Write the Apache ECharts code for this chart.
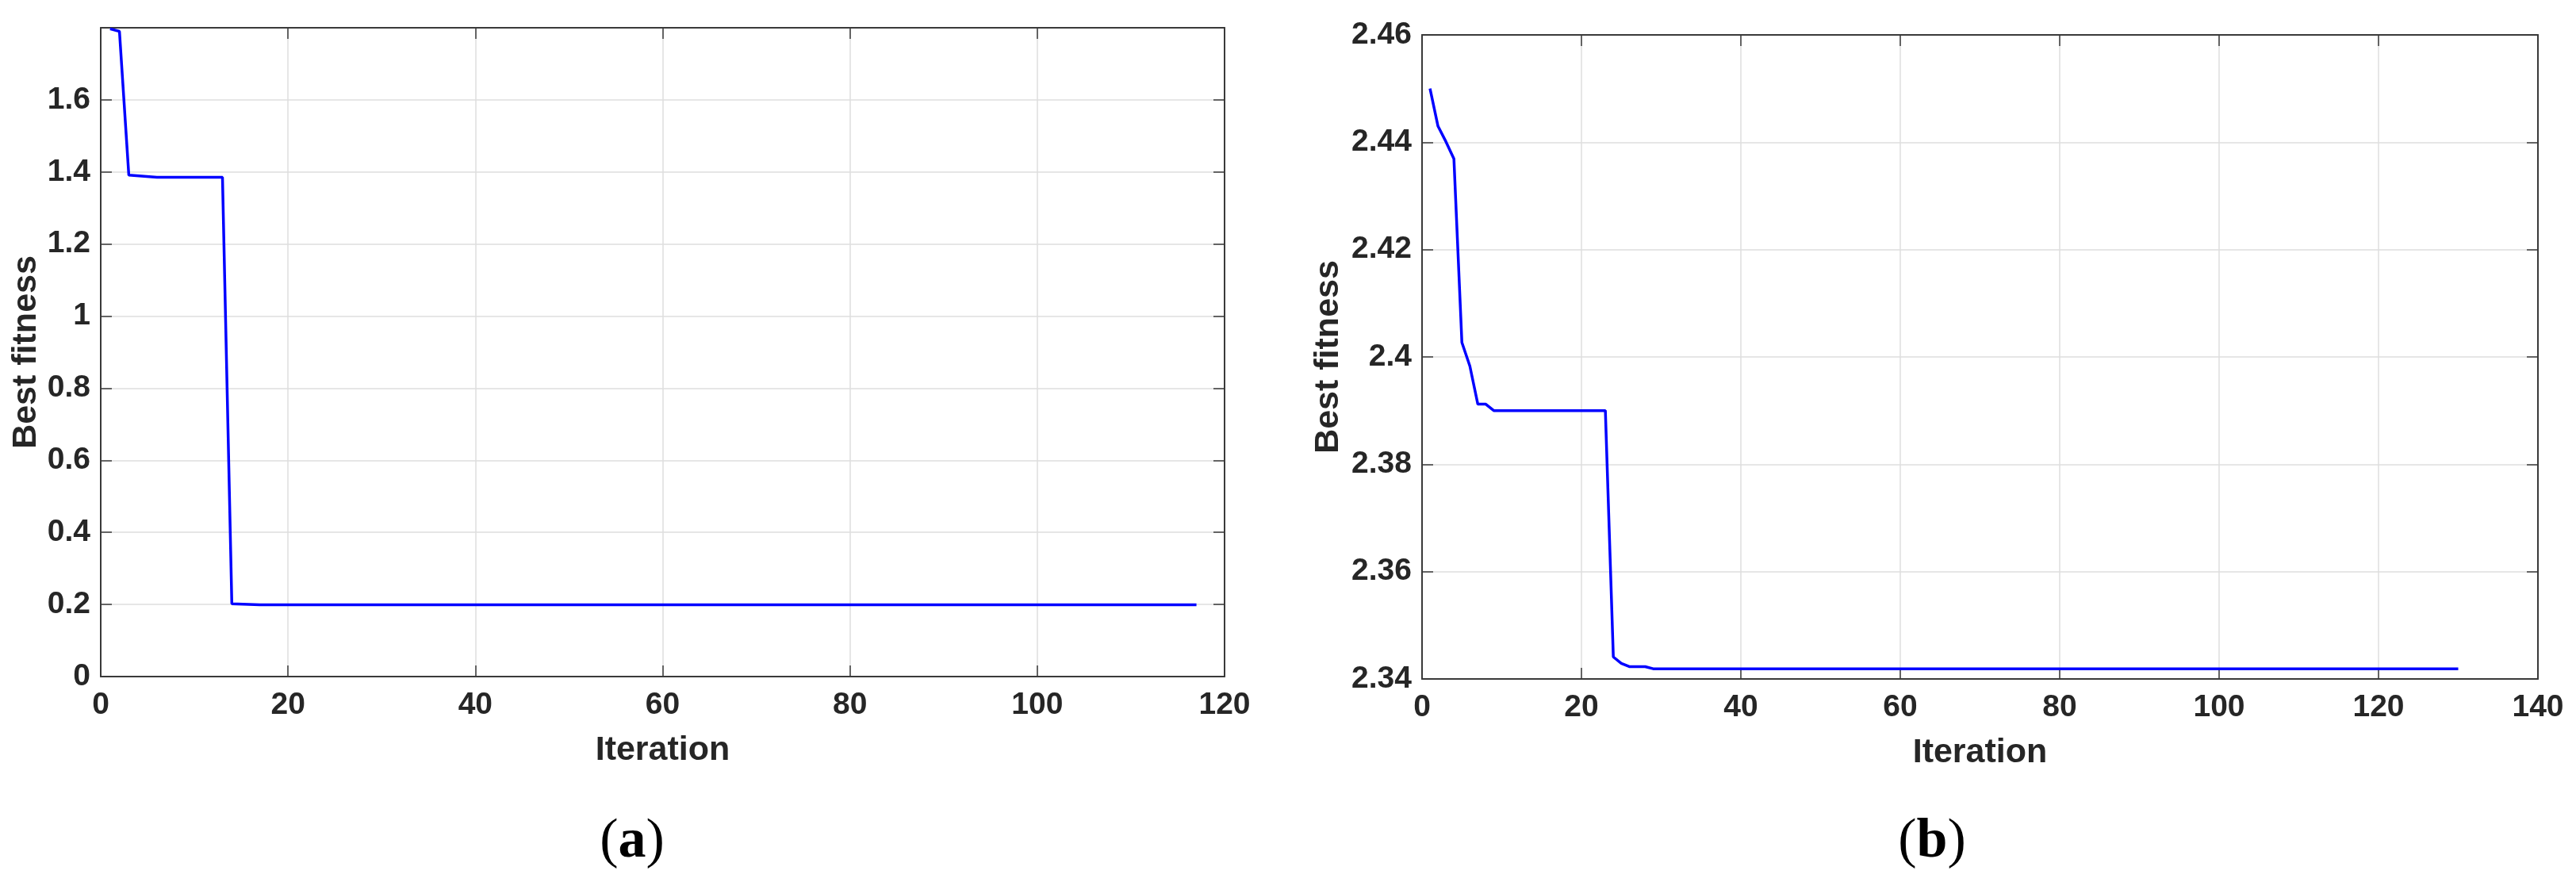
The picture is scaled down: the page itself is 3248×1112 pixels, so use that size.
<!DOCTYPE html>
<html>
<head>
<meta charset="utf-8">
<script src="https://cdn.jsdelivr.net/npm/echarts@6/dist/echarts.min.js"></script>
<style>
html,body{margin:0;padding:0;background:#fff;}
#c{width:3248px;height:1112px;}
</style>
</head>
<body>
<div id="c"></div>
<script>
// ---- data (a) ----
const iterA = [1, 2, 3, 6, 13, 14, 17, 117];
const fitA  = [1.797, 1.790, 1.391, 1.385, 1.385, 0.202, 0.199, 0.199];
// ---- data (b) ----
const iterB = [1, 2, 3, 4, 5, 6, 7, 8, 9, 23, 24, 25, 26, 28, 29, 130];
const fitB  = [2.4500, 2.4430, 2.4401, 2.4369, 2.4027, 2.3983, 2.3912, 2.3912, 2.3900, 2.3900, 2.3441, 2.3429, 2.3423, 2.3423, 2.3419, 2.3419];
// ---- axes / labels ----
const xTitle = 'Iteration';
const yTitle = 'Best fitness';
const panelLabels = ['a', 'b'];
const xRangeA = [0, 120], yRangeA = [0, 1.8];
const xRangeB = [0, 140], yRangeB = [2.34, 2.46];

const TXT = '#262626';
const AX = '#3a3a3a';
const GRID = '#dedede';
const FONT = '"Liberation Sans", Arial, Helvetica, sans-serif';

function mainX(gi, r, gap) {
  return {
    type: 'value', gridIndex: gi, position: 'bottom', min: r[0], max: r[1], interval: 20,
    name: xTitle, nameLocation: 'middle', nameGap: gap,
    nameTextStyle: {fontFamily: FONT, fontWeight: 'bold', fontSize: 43, color: TXT},
    axisLine: {show: true, onZero: false, lineStyle: {color: AX, width: 2}},
    axisTick: {show: true, inside: true, length: 14, lineStyle: {color: AX, width: 1.5}},
    axisLabel: {fontFamily: FONT, fontWeight: 'bold', fontSize: 39, color: TXT, margin: 17},
    splitLine: {show: true, lineStyle: {color: GRID, width: 1.5}}
  };
}
function mirrorX(gi, r) {
  return {
    type: 'value', gridIndex: gi, position: 'top', min: r[0], max: r[1], interval: 20,
    axisLine: {show: true, onZero: false, lineStyle: {color: AX, width: 2}},
    axisTick: {show: true, inside: true, length: 14, lineStyle: {color: AX, width: 1.5}},
    axisLabel: {show: false}, splitLine: {show: false}
  };
}
function mainY(gi, r, iv, gap, showMax) {
  return {
    type: 'value', gridIndex: gi, position: 'left', min: r[0], max: r[1], interval: iv,
    name: yTitle, nameLocation: 'middle', nameGap: gap,
    nameTextStyle: {fontFamily: FONT, fontWeight: 'bold', fontSize: 43, color: TXT},
    axisLine: {show: true, onZero: false, lineStyle: {color: AX, width: 2}},
    axisTick: {show: true, inside: true, length: 14, lineStyle: {color: AX, width: 1.5}},
    axisLabel: {fontFamily: FONT, fontWeight: 'bold', fontSize: 39, color: TXT, margin: 13, showMaxLabel: showMax},
    splitLine: {show: true, lineStyle: {color: GRID, width: 1.5}}
  };
}
function mirrorY(gi, r, iv) {
  return {
    type: 'value', gridIndex: gi, position: 'right', min: r[0], max: r[1], interval: iv,
    axisLine: {show: true, onZero: false, lineStyle: {color: AX, width: 2}},
    axisTick: {show: true, inside: true, length: 14, lineStyle: {color: AX, width: 1.5}},
    axisLabel: {show: false}, splitLine: {show: false}
  };
}

const chart = echarts.init(document.getElementById('c'), null, {renderer: 'canvas'});
chart.setOption({
  animation: false,
  backgroundColor: '#ffffff',
  grid: [
    {left: 127, top: 35, width: 1417, height: 818},
    {left: 1793, top: 44, width: 1407, height: 812}
  ],
  xAxis: [mainX(0, xRangeA, 72), mirrorX(0, xRangeA), mainX(1, xRangeB, 72), mirrorX(1, xRangeB)],
  yAxis: [mainY(0, yRangeA, 0.2, 72, false), mirrorY(0, yRangeA, 0.2), mainY(1, yRangeB, 0.02, 96, true), mirrorY(1, yRangeB, 0.02)],
  series: [
    {type: 'line', xAxisIndex: 0, yAxisIndex: 0, data: iterA.map((x, i) => [x, fitA[i]]),
     showSymbol: false, symbol: 'none', lineStyle: {color: '#0000ff', width: 3.5}, z: 5},
    {type: 'line', xAxisIndex: 2, yAxisIndex: 2, data: iterB.map((x, i) => [x, fitB[i]]),
     showSymbol: false, symbol: 'none', lineStyle: {color: '#0000ff', width: 3.5}, z: 5}
  ],
  graphic: [
    {type: 'text', x: 797, y: 1062, style: {
      text: '{p|(}{b|' + panelLabels[0] + '}{p|)}', textAlign: 'center', textVerticalAlign: 'middle',
      rich: {p: {fontFamily: '"Liberation Serif", "Times New Roman", serif', fontSize: 70, fill: '#000'},
             b: {fontFamily: '"Liberation Serif", "Times New Roman", serif', fontSize: 70, fontWeight: 'bold', fill: '#000'}}
    }},
    {type: 'text', x: 2436, y: 1062, style: {
      text: '{p|(}{b|' + panelLabels[1] + '}{p|)}', textAlign: 'center', textVerticalAlign: 'middle',
      rich: {p: {fontFamily: '"Liberation Serif", "Times New Roman", serif', fontSize: 70, fill: '#000'},
             b: {fontFamily: '"Liberation Serif", "Times New Roman", serif', fontSize: 70, fontWeight: 'bold', fill: '#000'}}
    }}
  ]
});
</script>
</body>
</html>
